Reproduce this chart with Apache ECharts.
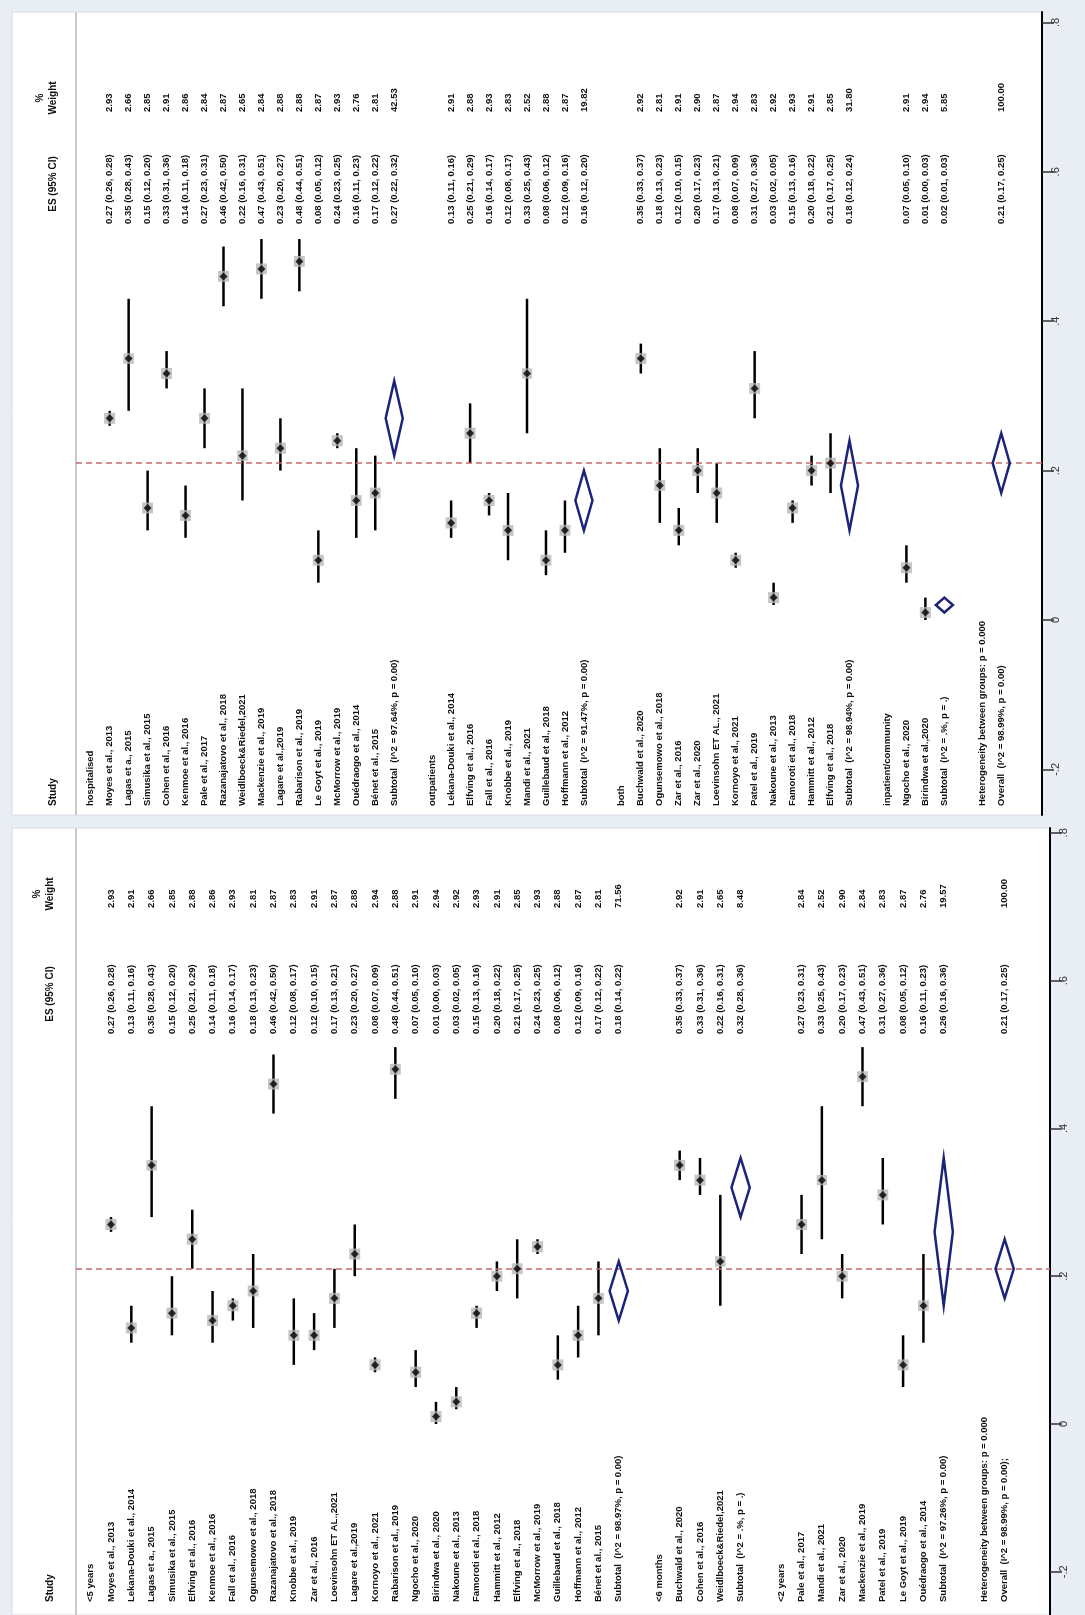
<!DOCTYPE html>
<html>
<head>
<meta charset="utf-8">
<title>Forest plot</title>
<script src="https://cdn.jsdelivr.net/npm/echarts@6/dist/echarts.min.js"></script>
<style>
    html, body { margin: 0; padding: 0; background: #e8eef3; }
    #chart { width: 1085px; height: 1615px; }
</style>
</head>
<body>
<div id="chart"></div>
<script>
// ---- top panel: by setting ----
var topLabels = [
    'hospitalised',
    'Moyes et al., 2013', 'Lagas et a., 2015', 'Simusika et al., 2015', 'Cohen et al., 2016',
    'Kenmoe et al., 2016', 'Pale et al., 2017', 'Razanajatovo et al., 2018', 'Weidlboeck&Riedel,2021',
    'Mackenzie et al., 2019', 'Lagare et al.,2019', 'Rabarison et al., 2019', 'Le Goyt et al., 2019',
    'McMorrow et al., 2019', 'Ouédraogo et al., 2014', 'Bénet et al., 2015',
    'Subtotal  (I^2 = 97.64%, p = 0.00)',
    '',
    'outpatients',
    'Lekana-Douki et al., 2014', 'Elfving et al., 2016', 'Fall et al., 2016', 'Knobbe et al., 2019',
    'Mandi et al., 2021', 'Guillebaud et al., 2018', 'Hoffmann et al., 2012',
    'Subtotal  (I^2 = 91.47%, p = 0.00)',
    '',
    'both',
    'Buchwald et al., 2020', 'Ogunsemowo et al., 2018', 'Zar et al., 2016', 'Zar et al., 2020',
    'Loevinsohn ET AL., 2021', 'Kornoyo et al., 2021', 'Patel et al., 2019', 'Nakoune et al., 2013',
    'Famoroti et al., 2018', 'Hammitt et al., 2012', 'Elfving et al., 2018',
    'Subtotal  (I^2 = 98.94%, p = 0.00)',
    '',
    'inpatient/community',
    'Ngocho et al., 2020', 'Birindwa et al.,2020',
    'Subtotal  (I^2 = .%, p = .)',
    '',
    'Heterogeneity between groups: p = 0.000',
    'Overall  (I^2 = 98.99%, p = 0.00)'
];
var topES = [null,
    0.27, 0.35, 0.15, 0.33, 0.14, 0.27, 0.46, 0.22, 0.47, 0.23, 0.48, 0.08, 0.24, 0.16, 0.17, 0.27,
    null, null,
    0.13, 0.25, 0.16, 0.12, 0.33, 0.08, 0.12, 0.16,
    null, null,
    0.35, 0.18, 0.12, 0.20, 0.17, 0.08, 0.31, 0.03, 0.15, 0.20, 0.21, 0.18,
    null, null,
    0.07, 0.01, 0.02,
    null, null, 0.21];
var topLo = [null,
    0.26, 0.28, 0.12, 0.31, 0.11, 0.23, 0.42, 0.16, 0.43, 0.20, 0.44, 0.05, 0.23, 0.11, 0.12, 0.22,
    null, null,
    0.11, 0.21, 0.14, 0.08, 0.25, 0.06, 0.09, 0.12,
    null, null,
    0.33, 0.13, 0.10, 0.17, 0.13, 0.07, 0.27, 0.02, 0.13, 0.18, 0.17, 0.12,
    null, null,
    0.05, 0.00, 0.01,
    null, null, 0.17];
var topHi = [null,
    0.28, 0.43, 0.20, 0.36, 0.18, 0.31, 0.50, 0.31, 0.51, 0.27, 0.51, 0.12, 0.25, 0.23, 0.22, 0.32,
    null, null,
    0.16, 0.29, 0.17, 0.17, 0.43, 0.12, 0.16, 0.20,
    null, null,
    0.37, 0.23, 0.15, 0.23, 0.21, 0.09, 0.36, 0.05, 0.16, 0.22, 0.25, 0.24,
    null, null,
    0.10, 0.03, 0.03,
    null, null, 0.25];
var topWeight = [null,
    2.93, 2.66, 2.85, 2.91, 2.86, 2.84, 2.87, 2.65, 2.84, 2.88, 2.88, 2.87, 2.93, 2.76, 2.81, 42.53,
    null, null,
    2.91, 2.88, 2.93, 2.83, 2.52, 2.88, 2.87, 19.82,
    null, null,
    2.92, 2.81, 2.91, 2.90, 2.87, 2.94, 2.83, 2.92, 2.93, 2.91, 2.85, 31.80,
    null, null,
    2.91, 2.94, 5.85,
    null, null, 100.00];

// ---- bottom panel: by age ----
var bottomLabels = [
    '<5 years',
    'Moyes et al., 2013', 'Lekana-Douki et al., 2014', 'Lagas et a., 2015', 'Simusika et al., 2015',
    'Elfving et al., 2016', 'Kenmoe et al., 2016', 'Fall et al., 2016', 'Ogunsemowo et al., 2018',
    'Razanajatovo et al., 2018', 'Knobbe et al., 2019', 'Zar et al., 2016', 'Loevinsohn ET AL.,2021',
    'Lagare et al.,2019', 'Kornoyo et al., 2021', 'Rabarison et al., 2019', 'Ngocho et al., 2020',
    'Birindwa et al., 2020', 'Nakoune et al., 2013', 'Famoroti et al., 2018', 'Hammitt et al., 2012',
    'Elfving et al., 2018', 'McMorrow et al., 2019', 'Guillebaud et al., 2018', 'Hoffmann et al., 2012',
    'Bénet et al., 2015',
    'Subtotal  (I^2 = 98.97%, p = 0.00)',
    '',
    '<6 months',
    'Buchwald et al., 2020', 'Cohen et al., 2016', 'Weidlboeck&Riedel,2021',
    'Subtotal  (I^2 = .%, p = .)',
    '',
    '<2 years',
    'Pale et al., 2017', 'Mandi et al., 2021', 'Zar et al., 2020', 'Mackenzie et al., 2019',
    'Patel et al., 2019', 'Le Goyt et al., 2019', 'Ouédraogo et al., 2014',
    'Subtotal  (I^2 = 97.26%, p = 0.00)',
    '',
    'Heterogeneity between groups: p = 0.000',
    'Overall  (I^2 = 98.99%, p = 0.00);'
];
var bottomES = [null,
    0.27, 0.13, 0.35, 0.15, 0.25, 0.14, 0.16, 0.18, 0.46, 0.12, 0.12, 0.17, 0.23, 0.08, 0.48, 0.07,
    0.01, 0.03, 0.15, 0.20, 0.21, 0.24, 0.08, 0.12, 0.17, 0.18,
    null, null,
    0.35, 0.33, 0.22, 0.32,
    null, null,
    0.27, 0.33, 0.20, 0.47, 0.31, 0.08, 0.16, 0.26,
    null, null, 0.21];
var bottomLo = [null,
    0.26, 0.11, 0.28, 0.12, 0.21, 0.11, 0.14, 0.13, 0.42, 0.08, 0.10, 0.13, 0.20, 0.07, 0.44, 0.05,
    0.00, 0.02, 0.13, 0.18, 0.17, 0.23, 0.06, 0.09, 0.12, 0.14,
    null, null,
    0.33, 0.31, 0.16, 0.28,
    null, null,
    0.23, 0.25, 0.17, 0.43, 0.27, 0.05, 0.11, 0.16,
    null, null, 0.17];
var bottomHi = [null,
    0.28, 0.16, 0.43, 0.20, 0.29, 0.18, 0.17, 0.23, 0.50, 0.17, 0.15, 0.21, 0.27, 0.09, 0.51, 0.10,
    0.03, 0.05, 0.16, 0.22, 0.25, 0.25, 0.12, 0.16, 0.22, 0.22,
    null, null,
    0.37, 0.36, 0.31, 0.36,
    null, null,
    0.31, 0.43, 0.23, 0.51, 0.36, 0.12, 0.23, 0.36,
    null, null, 0.25];
var bottomWeight = [null,
    2.93, 2.91, 2.66, 2.85, 2.88, 2.86, 2.93, 2.81, 2.87, 2.83, 2.91, 2.87, 2.88, 2.94, 2.88, 2.91,
    2.94, 2.92, 2.93, 2.91, 2.85, 2.93, 2.88, 2.87, 2.81, 71.56,
    null, null,
    2.92, 2.91, 2.65, 8.48,
    null, null,
    2.84, 2.52, 2.90, 2.84, 2.83, 2.87, 2.76, 19.57,
    null, null, 100.00];

var tickValues = [-0.2, 0, 0.2, 0.4, 0.6, 0.8];
var overallES = 0.21;

var FONT = '"Liberation Sans", Arial, sans-serif';

// pixel layout of each panel
var panels = [
    {
        d: {labels: topLabels, es: topES, lo: topLo, hi: topHi, wt: topWeight},
        left: 12, top: 12, right: 1042, bottom: 815, border: 76,
        firstRow: 90.7, rowStep: 18.97, zeroPx: 620, unitPx: 747,
        labelAt: 806, esAt: 224, wtAt: 112
    },
    {
        d: {labels: bottomLabels, es: bottomES, lo: bottomLo, hi: bottomHi, wt: bottomWeight},
        left: 12, top: 828, right: 1050, bottom: 1615, border: 76,
        firstRow: 90.7, rowStep: 20.31, zeroPx: 1424, unitPx: 739,
        labelAt: 1602, esAt: 1034, wtAt: 908
    }
];

function isPooled(label) {
    return /^(Subtotal|Overall)/.test(label);
}
function f2(v) {
    return v.toFixed(2);
}
function txt(x, y, s, weight, align, size) {
    return {
        type: 'text', x: x, y: y, rotation: Math.PI / 2,
        style: {
            text: s, fill: '#111',
            font: (weight || 'bold') + ' ' + (size || 9.5) + 'px ' + FONT,
            textAlign: align || 'left', textVerticalAlign: 'middle',
            align: align || 'left', verticalAlign: 'middle'
        }
    };
}

var grids = [], xAxes = [], yAxes = [], series = [], graphics = [];

panels.forEach(function (L, p) {
    var d = L.d;
    // white panel + border line
    graphics.push({
        type: 'rect', z: 0,
        shape: {x: L.left, y: L.top, width: L.right - L.left, height: L.bottom - L.top},
        style: {fill: '#fff', stroke: '#d6dde4', lineWidth: 1}
    });
    graphics.push({
        type: 'line', z: 1,
        shape: {x1: L.border, y1: L.top, x2: L.border, y2: L.bottom},
        style: {stroke: '#c9c9c9', lineWidth: 2}
    });

    grids.push({
        left: L.border, top: L.top,
        width: L.right - L.border, height: L.bottom - L.top
    });
    xAxes.push({
        gridIndex: p, type: 'value', show: false,
        min: (L.border - L.firstRow) / L.rowStep,
        max: (L.right - L.firstRow) / L.rowStep
    });
    yAxes.push({
        gridIndex: p, type: 'value', position: 'right',
        min: (L.zeroPx - L.bottom) / L.unitPx,
        max: (L.zeroPx - L.top) / L.unitPx,
        axisLine: {show: true, onZero: false, lineStyle: {color: '#000', width: 2}},
        axisTick: {show: true, customValues: tickValues, length: 12, lineStyle: {color: '#333', width: 1.5}},
        axisLabel: {
            customValues: tickValues, rotate: 90, margin: 8,
            color: '#333', fontSize: 11, fontFamily: FONT,
            formatter: function (v) {
                return String(+(+v).toFixed(1)).replace(/^(-?)0\./, '$1.');
            }
        },
        splitLine: {show: false}
    });

    var ciData = [], boxData = [], poolData = [], rowData = [];
    for (var i = 0; i < d.labels.length; i++) {
        rowData.push([i, 0]);
        if (d.es[i] == null) continue;
        if (isPooled(d.labels[i])) {
            poolData.push([i, d.es[i], d.lo[i], d.hi[i]]);
        } else {
            ciData.push([i, d.lo[i], d.hi[i]]);
            boxData.push([i, d.es[i], d.wt[i]]);
        }
    }

    // confidence intervals + reference line at overall ES
    series.push({
        type: 'custom', xAxisIndex: p, yAxisIndex: p, z: 3,
        data: ciData,
        renderItem: function (params, api) {
            var a = api.coord([api.value(0), api.value(1)]);
            var b = api.coord([api.value(0), api.value(2)]);
            return {
                type: 'line',
                shape: {x1: a[0], y1: a[1], x2: b[0], y2: b[1]},
                style: {stroke: '#000', lineWidth: 2.5}
            };
        },
        markLine: {
            silent: true, symbol: ['none', 'none'], label: {show: false},
            lineStyle: {color: '#c86a6a', type: [6, 4], width: 1.5},
            data: [{yAxis: overallES}]
        }
    });
    // weight boxes
    series.push({
        type: 'scatter', xAxisIndex: p, yAxisIndex: p, z: 4,
        symbol: 'rect',
        symbolSize: function (v) { return 11 * Math.sqrt(v[2] / 2.9); },
        itemStyle: {color: '#b8b8b8'},
        data: boxData
    });
    // point estimates
    series.push({
        type: 'scatter', xAxisIndex: p, yAxisIndex: p, z: 5,
        symbol: 'diamond', symbolSize: 8,
        itemStyle: {color: '#000'},
        data: boxData
    });
    // pooled diamonds
    series.push({
        type: 'custom', xAxisIndex: p, yAxisIndex: p, z: 5,
        data: poolData,
        renderItem: function (params, api) {
            var r = api.value(0), es = api.value(1);
            var pts = [
                api.coord([r, api.value(2)]),
                api.coord([r + 0.45, es]),
                api.coord([r, api.value(3)]),
                api.coord([r - 0.45, es])
            ];
            return {
                type: 'polygon',
                shape: {points: pts},
                style: {fill: 'none', stroke: '#1c237a', lineWidth: 2.5}
            };
        }
    });
    // text columns
    series.push({
        type: 'custom', xAxisIndex: p, yAxisIndex: p, z: 6, clip: false, silent: true,
        data: rowData,
        renderItem: function (params, api) {
            var i = params.dataIndex;
            var x = api.coord([i, 0])[0];
            var kids = [];
            if (d.labels[i]) kids.push(txt(x, L.labelAt, d.labels[i]));
            if (d.es[i] != null) {
                kids.push(txt(x, L.esAt, f2(d.es[i]) + ' (' + f2(d.lo[i]) + ', ' + f2(d.hi[i]) + ')'));
                kids.push(txt(x, L.wtAt, f2(d.wt[i])));
            }
            return {type: 'group', children: kids};
        }
    });
    // column headers
    series.push({
        type: 'custom', xAxisIndex: p, yAxisIndex: p, z: 6, clip: false, silent: true,
        data: [[-2, 0]],
        renderItem: function (params, api) {
            var x = api.coord([-2, 0])[0];
            var x2 = api.coord([-2.65, 0])[0];
            return {
                type: 'group',
                children: [
                    txt(x, L.labelAt, 'Study', 'bold', 'left', 10),
                    txt(x, L.esAt - 40, 'ES (95% CI)', 'bold', 'center', 10),
                    txt(x2, L.wtAt - 14, '%', 'bold', 'center', 10),
                    txt(x, L.wtAt - 14, 'Weight', 'bold', 'center', 10)
                ]
            };
        }
    });
});

var chart = echarts.init(document.getElementById('chart'));
chart.setOption({
    backgroundColor: '#e8eef3',
    animation: false,
    graphic: {elements: graphics},
    grid: grids,
    xAxis: xAxes,
    yAxis: yAxes,
    series: series
});
window.addEventListener('resize', function () {
    chart.resize();
});
</script>
</body>
</html>
